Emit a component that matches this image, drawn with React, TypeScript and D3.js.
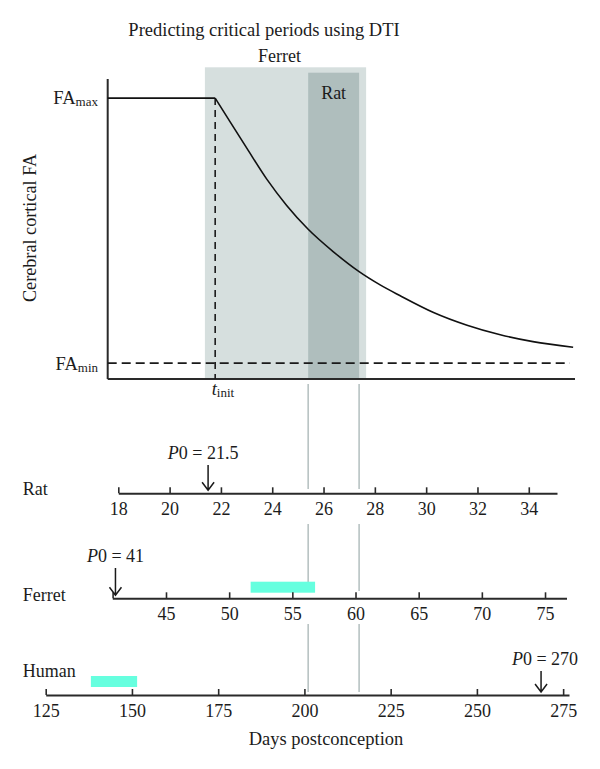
import React, { useEffect, useRef } from "react";
import * as d3 from "d3";

// top panel: relative time (0-100) vs normalised FA (0 = FAmin, 1 = FAmax)
const curveT = [23, 26.2, 29.8, 34.0, 38.3, 42.9, 48.3, 53.8, 58.3, 62.5, 69.6, 76.9, 84.0, 91.0, 99.6];
const curveFA = [1.0, 0.91, 0.81, 0.695, 0.595, 0.505, 0.42, 0.345, 0.295, 0.255, 0.192, 0.143, 0.107, 0.081, 0.06];
const tInit = 23;
const ferretWindow = [20.8, 55.3];
const ratWindow = [42.9, 53.8];

// lower panels: days postconception
const species = ["Rat", "Ferret", "Human"];
const ratTicks = [18, 20, 22, 24, 26, 28, 30, 32, 34];
const ferretTicks = [45, 50, 55, 60, 65, 70, 75];
const humanTicks = [125, 150, 175, 200, 225, 250, 275];
const axisDomains = [[18, 35.1], [40.75, 76.7], [125, 276.7]];
const p0Labels = ["21.5", "41", "270"];
const p0Arrows = [21.5, 41, 268.6];
const ferretBar = [51.7, 56.8];
const humanBar = [138.1, 151.5];

const FONT = '"Liberation Serif", "Times New Roman", serif';
const INK = "#1c1c1c";

export default function App() {
  const svgRef = useRef<SVGSVGElement>(null);

  useEffect(() => {
    const svg = d3.select(svgRef.current);
    svg.selectAll("*").remove();

    const x = d3.scaleLinear().domain([0, 100]).range([107.7, 575]);
    const y = d3.scaleLinear().domain([-0.06, 1.072]).range([379, 79]);

    // title
    svg.append("text").attr("x", 264).attr("y", 36).attr("text-anchor", "middle")
      .attr("font-size", 18.5).text("Predicting critical periods using DTI");

    // shaded windows
    svg.append("rect").attr("x", x(ferretWindow[0])).attr("y", 67.3)
      .attr("width", x(ferretWindow[1]) - x(ferretWindow[0])).attr("height", y(-0.06) - 67.3)
      .attr("fill", "#d6dfde");
    svg.append("rect").attr("x", x(ratWindow[0])).attr("y", 72.7)
      .attr("width", x(ratWindow[1]) - x(ratWindow[0])).attr("height", y(-0.06) - 72.7)
      .attr("fill", "#afbebd");
    svg.append("text").attr("x", (x(ferretWindow[0]) + x(ferretWindow[1])) / 2 - 6).attr("y", 62)
      .attr("text-anchor", "middle").attr("font-size", 18).text("Ferret");
    svg.append("text").attr("x", (x(ratWindow[0]) + x(ratWindow[1])) / 2).attr("y", 99)
      .attr("text-anchor", "middle").attr("font-size", 18).text("Rat");

    // axes of top panel
    svg.append("line").attr("x1", x(0)).attr("x2", x(0)).attr("y1", y(1.072)).attr("y2", y(-0.06))
      .attr("stroke", "#2a2a2a").attr("stroke-width", 2);
    svg.append("line").attr("x1", x(0)).attr("x2", x(100)).attr("y1", y(-0.06)).attr("y2", y(-0.06))
      .attr("stroke", "#2a2a2a").attr("stroke-width", 2);

    // FAmin dashed, tinit dashed
    svg.append("line").attr("x1", x(0)).attr("x2", x(98.9)).attr("y1", y(0)).attr("y2", y(0))
      .attr("stroke", "#1a1a1a").attr("stroke-width", 1.6).attr("stroke-dasharray", "9,5");
    svg.append("line").attr("x1", x(tInit)).attr("x2", x(tInit)).attr("y1", y(1)).attr("y2", y(-0.06))
      .attr("stroke", "#1a1a1a").attr("stroke-width", 1.6).attr("stroke-dasharray", "7,5");

    // FA curve
    const pts: [number, number][] = [[0, 1], ...curveT.map((t, i) => [t, curveFA[i]] as [number, number])];
    const flat = d3.line<[number, number]>().x(d => x(d[0])).y(d => y(d[1]));
    svg.append("path").attr("d", flat(pts.slice(0, 2)))
      .attr("fill", "none").attr("stroke", "#111").attr("stroke-width", 1.6);
    const decay = d3.line<[number, number]>().x(d => x(d[0])).y(d => y(d[1])).curve(d3.curveMonotoneX);
    svg.append("path").attr("d", decay(pts.slice(1)))
      .attr("fill", "none").attr("stroke", "#111").attr("stroke-width", 1.6);

    // FA labels
    const faMax = svg.append("text").attr("x", 98).attr("y", 104).attr("text-anchor", "end").attr("font-size", 18.5);
    faMax.append("tspan").text("FA");
    faMax.append("tspan").attr("font-size", 13).attr("dy", 1.5).text("max");
    const faMin = svg.append("text").attr("x", 98).attr("y", 370).attr("text-anchor", "end").attr("font-size", 18.5);
    faMin.append("tspan").text("FA");
    faMin.append("tspan").attr("font-size", 13).attr("dy", 1.5).text("min");
    const ti = svg.append("text").attr("x", x(tInit) - 3.5).attr("y", 395).attr("font-size", 18.5);
    ti.append("tspan").attr("font-style", "italic").text("t");
    ti.append("tspan").attr("font-size", 13).attr("dy", 1.5).text("init");

    svg.append("text").attr("transform", "translate(36,228) rotate(-90)").attr("text-anchor", "middle")
      .attr("font-size", 18.2).text("Cerebral cortical FA");

    // guide lines through the lower panels
    const guideSegments = [[384, 489], [524, 591], [624, 692]];
    ratWindow.forEach(t => {
      guideSegments.forEach(([a, b]) => {
        svg.append("line").attr("x1", x(t)).attr("x2", x(t)).attr("y1", a).attr("y2", b)
          .attr("stroke", "#b8c3c3").attr("stroke-width", 1.6);
      });
    });

    // species timelines
    const ranges = [[118.3, 557], [112.3, 566.5], [45.7, 569]];
    const axisY = [493.3, 598.3, 695];
    const nameY = [495, 600.7, 676.7];
    const tickSets = [ratTicks, ferretTicks, humanTicks];
    const p0LabelY = [459, 562, 665];
    const p0Dx = [-5, 0, 4];
    const bars = [null, ferretBar, humanBar];
    const barY = [0, 581.7, 676];

    species.forEach((name, i) => {
      const s = d3.scaleLinear().domain(axisDomains[i]).range(ranges[i]);

      svg.append("text").attr("x", 22.7).attr("y", nameY[i]).attr("font-size", 18).text(name);

      const bar = bars[i];
      if (bar) {
        svg.append("rect").attr("x", s(bar[0])).attr("y", barY[i])
          .attr("width", s(bar[1]) - s(bar[0])).attr("height", 11).attr("fill", "#66ffdf");
      }

      const g = svg.append("g").attr("transform", `translate(0,${axisY[i]})`)
        .call(d3.axisBottom(s).tickValues(tickSets[i]).tickSize(-6).tickSizeOuter(0)
          .tickPadding(9).tickFormat(d3.format("d")));
      g.attr("font-family", FONT).attr("font-size", 18);
      g.select(".domain").attr("stroke", "#2a2a2a").attr("stroke-width", 2);
      g.selectAll(".tick line").attr("stroke", "#2a2a2a").attr("stroke-width", 1.6);
      g.selectAll(".tick text").attr("fill", INK);
      if (i === 1) {
        g.append("line").attr("x1", ranges[i][0] + 0.8).attr("x2", ranges[i][0] + 0.8).attr("y1", 0).attr("y2", -6)
          .attr("stroke", "#2a2a2a").attr("stroke-width", 1.6);
      }

      // P0 arrow
      const ax = s(p0Arrows[i]);
      const y2 = axisY[i] - 3;
      const y1 = p0LabelY[i] + 6;
      svg.append("path")
        .attr("d", `M${ax},${y1}V${y2}M${ax - 6},${y2 - 8}L${ax},${y2}L${ax + 6},${y2 - 8}`)
        .attr("fill", "none").attr("stroke", "#1a1a1a").attr("stroke-width", 1.5);
      const lbl = svg.append("text").attr("x", ax + p0Dx[i]).attr("y", p0LabelY[i])
        .attr("text-anchor", "middle").attr("font-size", 18);
      lbl.append("tspan").attr("font-style", "italic").text("P");
      lbl.append("tspan").text(`0 = ${p0Labels[i]}`);
    });

    svg.append("text").attr("x", 326).attr("y", 745).attr("text-anchor", "middle")
      .attr("font-size", 18.5).text("Days postconception");

    svg.selectAll("text").filter(function () {
      return !(this as Element).closest(".tick");
    }).attr("fill", INK);
  }, []);

  return (
    <svg
      ref={svgRef}
      width={600}
      height={769}
      style={{ position: "absolute", left: 0, top: 0, background: "#fff", fontFamily: FONT }}
    />
  );
}
